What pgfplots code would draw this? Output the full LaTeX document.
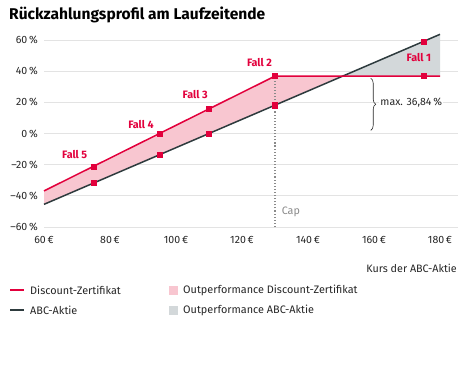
\documentclass[border=0pt]{standalone}
\usepackage{pgfplots}
\pgfplotsset{compat=1.18}
\usepackage{fontspec}
\setmainfont{Fira Sans}
\usetikzlibrary{decorations.pathreplacing}
\definecolor{cred}{HTML}{E2003C}
\definecolor{cdark}{HTML}{2E3B3E}
\definecolor{cpink}{HTML}{F8C6D0}
\definecolor{cgrey}{HTML}{D3D8DA}
\definecolor{cgrid}{HTML}{E3E3E3}
\definecolor{ctext}{HTML}{262626}
\definecolor{ccap}{HTML}{8A8A8A}
\begin{document}
\begin{tikzpicture}
\path[use as bounding box] (0,0) rectangle (474bp,-366bp);
\node[anchor=base west, inner sep=0pt, font=\fontsize{15.6}{17}\selectfont\bfseries, text=black] at (9bp,-19.5bp) {Rückzahlungsprofil am Laufzeitende};
\begin{axis}[
  at={(44bp,-227bp)}, anchor=south west,
  scale only axis, width=414bp, height=187bp,
  xmin=60, xmax=185.45, ymin=-60, ymax=60,
  clip=false,
  axis line style={draw=none},
  major tick style={draw=none},
  ymajorgrids,
  grid style={color=cgrid, line width=0.9bp},
  ytick={-60,-40,-20,0,20,40,60},
  yticklabels={–60\,\%,–40\,\%,–20\,\%,0\,\%,20\,\%,40\,\%,60\,\%},
  xtick={60,80,100,120,140,160,180},
  xticklabels={60\,€,80\,€,100\,€,120\,€,140\,€,160\,€,180\,€},
  ticklabel style={font=\fontsize{10.6}{12}\selectfont, text=ctext},
  yticklabel style={anchor=east, inner sep=0pt, xshift=-6bp},
  xticklabel style={anchor=north, inner sep=0pt, yshift=-9bp},
]
% areas
\addplot[fill=cpink, draw=none] coordinates {(60,-36.842) (130,36.842) (150.526,36.842) (60,-45.455)} -- cycle;
\addplot[fill=cgrey, draw=none] coordinates {(150.526,36.842) (180,63.636) (180,36.842)} -- cycle;
% cap line
\addplot[ccap, dotted, line width=1.1bp] coordinates {(130,-60) (130,36.842)};
% lines
\addplot[cdark, line width=1.5bp] coordinates {(60,-45.455) (180,63.636)};
\addplot[cred, line width=1.5bp] coordinates {(60,-36.842) (130,36.842) (180,36.842)};
% marks
\addplot[only marks, mark=square*, mark size=2.6bp, color=cred] coordinates {(75,-21.05) (95,0) (110,15.79) (130,36.842) (175,36.842)};
\addplot[only marks, mark=square*, mark size=2.6bp, color=cred] coordinates {(75,-31.82) (95,-13.64) (110,0) (130,18.18) (175,59.09)};
% labels
\node[text=cred, font=\fontsize{10.8}{12}\selectfont\bfseries] at (axis cs:173.6,48.5) {Fall 1};
\node[text=cred, font=\fontsize{10.8}{12}\selectfont\bfseries] at (axis cs:125.3,45.3) {Fall 2};
\node[text=cred, font=\fontsize{10.8}{12}\selectfont\bfseries] at (axis cs:105.8,25.3) {Fall 3};
\node[text=cred, font=\fontsize{10.8}{12}\selectfont\bfseries] at (axis cs:89.4,5.5) {Fall 4};
\node[text=cred, font=\fontsize{10.8}{12}\selectfont\bfseries] at (axis cs:69.3,-13.8) {Fall 5};
\node[text=ccap, font=\fontsize{10.8}{12}\selectfont, anchor=west, inner sep=0pt] at (axis cs:132,-50.4) {Cap};
\draw[decorate, decoration={brace, amplitude=5bp}, color=ctext, line width=0.6bp] (axis cs:159,35.5) -- (axis cs:159,2);
\node[fill=white, inner sep=1bp, anchor=west, text=ctext, font=\fontsize{10.6}{12}\selectfont] at (axis cs:161.6,19.5) {max. 36,84\,\%};
\end{axis}
\node[anchor=base east, inner sep=0pt, font=\fontsize{10.8}{12}\selectfont, text=ctext] at (457bp,-272bp) {Kurs der ABC-Aktie};
% legend
\draw[cred, line width=1.5bp] (10bp,-290bp) -- (24bp,-290bp);
\node[anchor=west, inner sep=0pt, font=\fontsize{10.9}{12}\selectfont, text=ctext] at (30bp,-290bp) {Discount-Zertifikat};
\draw[cdark, line width=1.5bp] (10bp,-310bp) -- (24bp,-310bp);
\node[anchor=west, inner sep=0pt, font=\fontsize{10.9}{12}\selectfont, text=ctext] at (30bp,-310bp) {ABC-Aktie};
\fill[cpink] (169bp,-285.5bp) rectangle (178bp,-294.5bp);
\node[anchor=west, inner sep=0pt, font=\fontsize{10.9}{12}\selectfont, text=ctext] at (183bp,-290bp) {Outperformance Discount-Zertifikat};
\fill[cgrey] (169bp,-305.5bp) rectangle (178bp,-314.5bp);
\node[anchor=west, inner sep=0pt, font=\fontsize{10.9}{12}\selectfont, text=ctext] at (183bp,-310bp) {Outperformance ABC-Aktie};
\end{tikzpicture}
\end{document}
